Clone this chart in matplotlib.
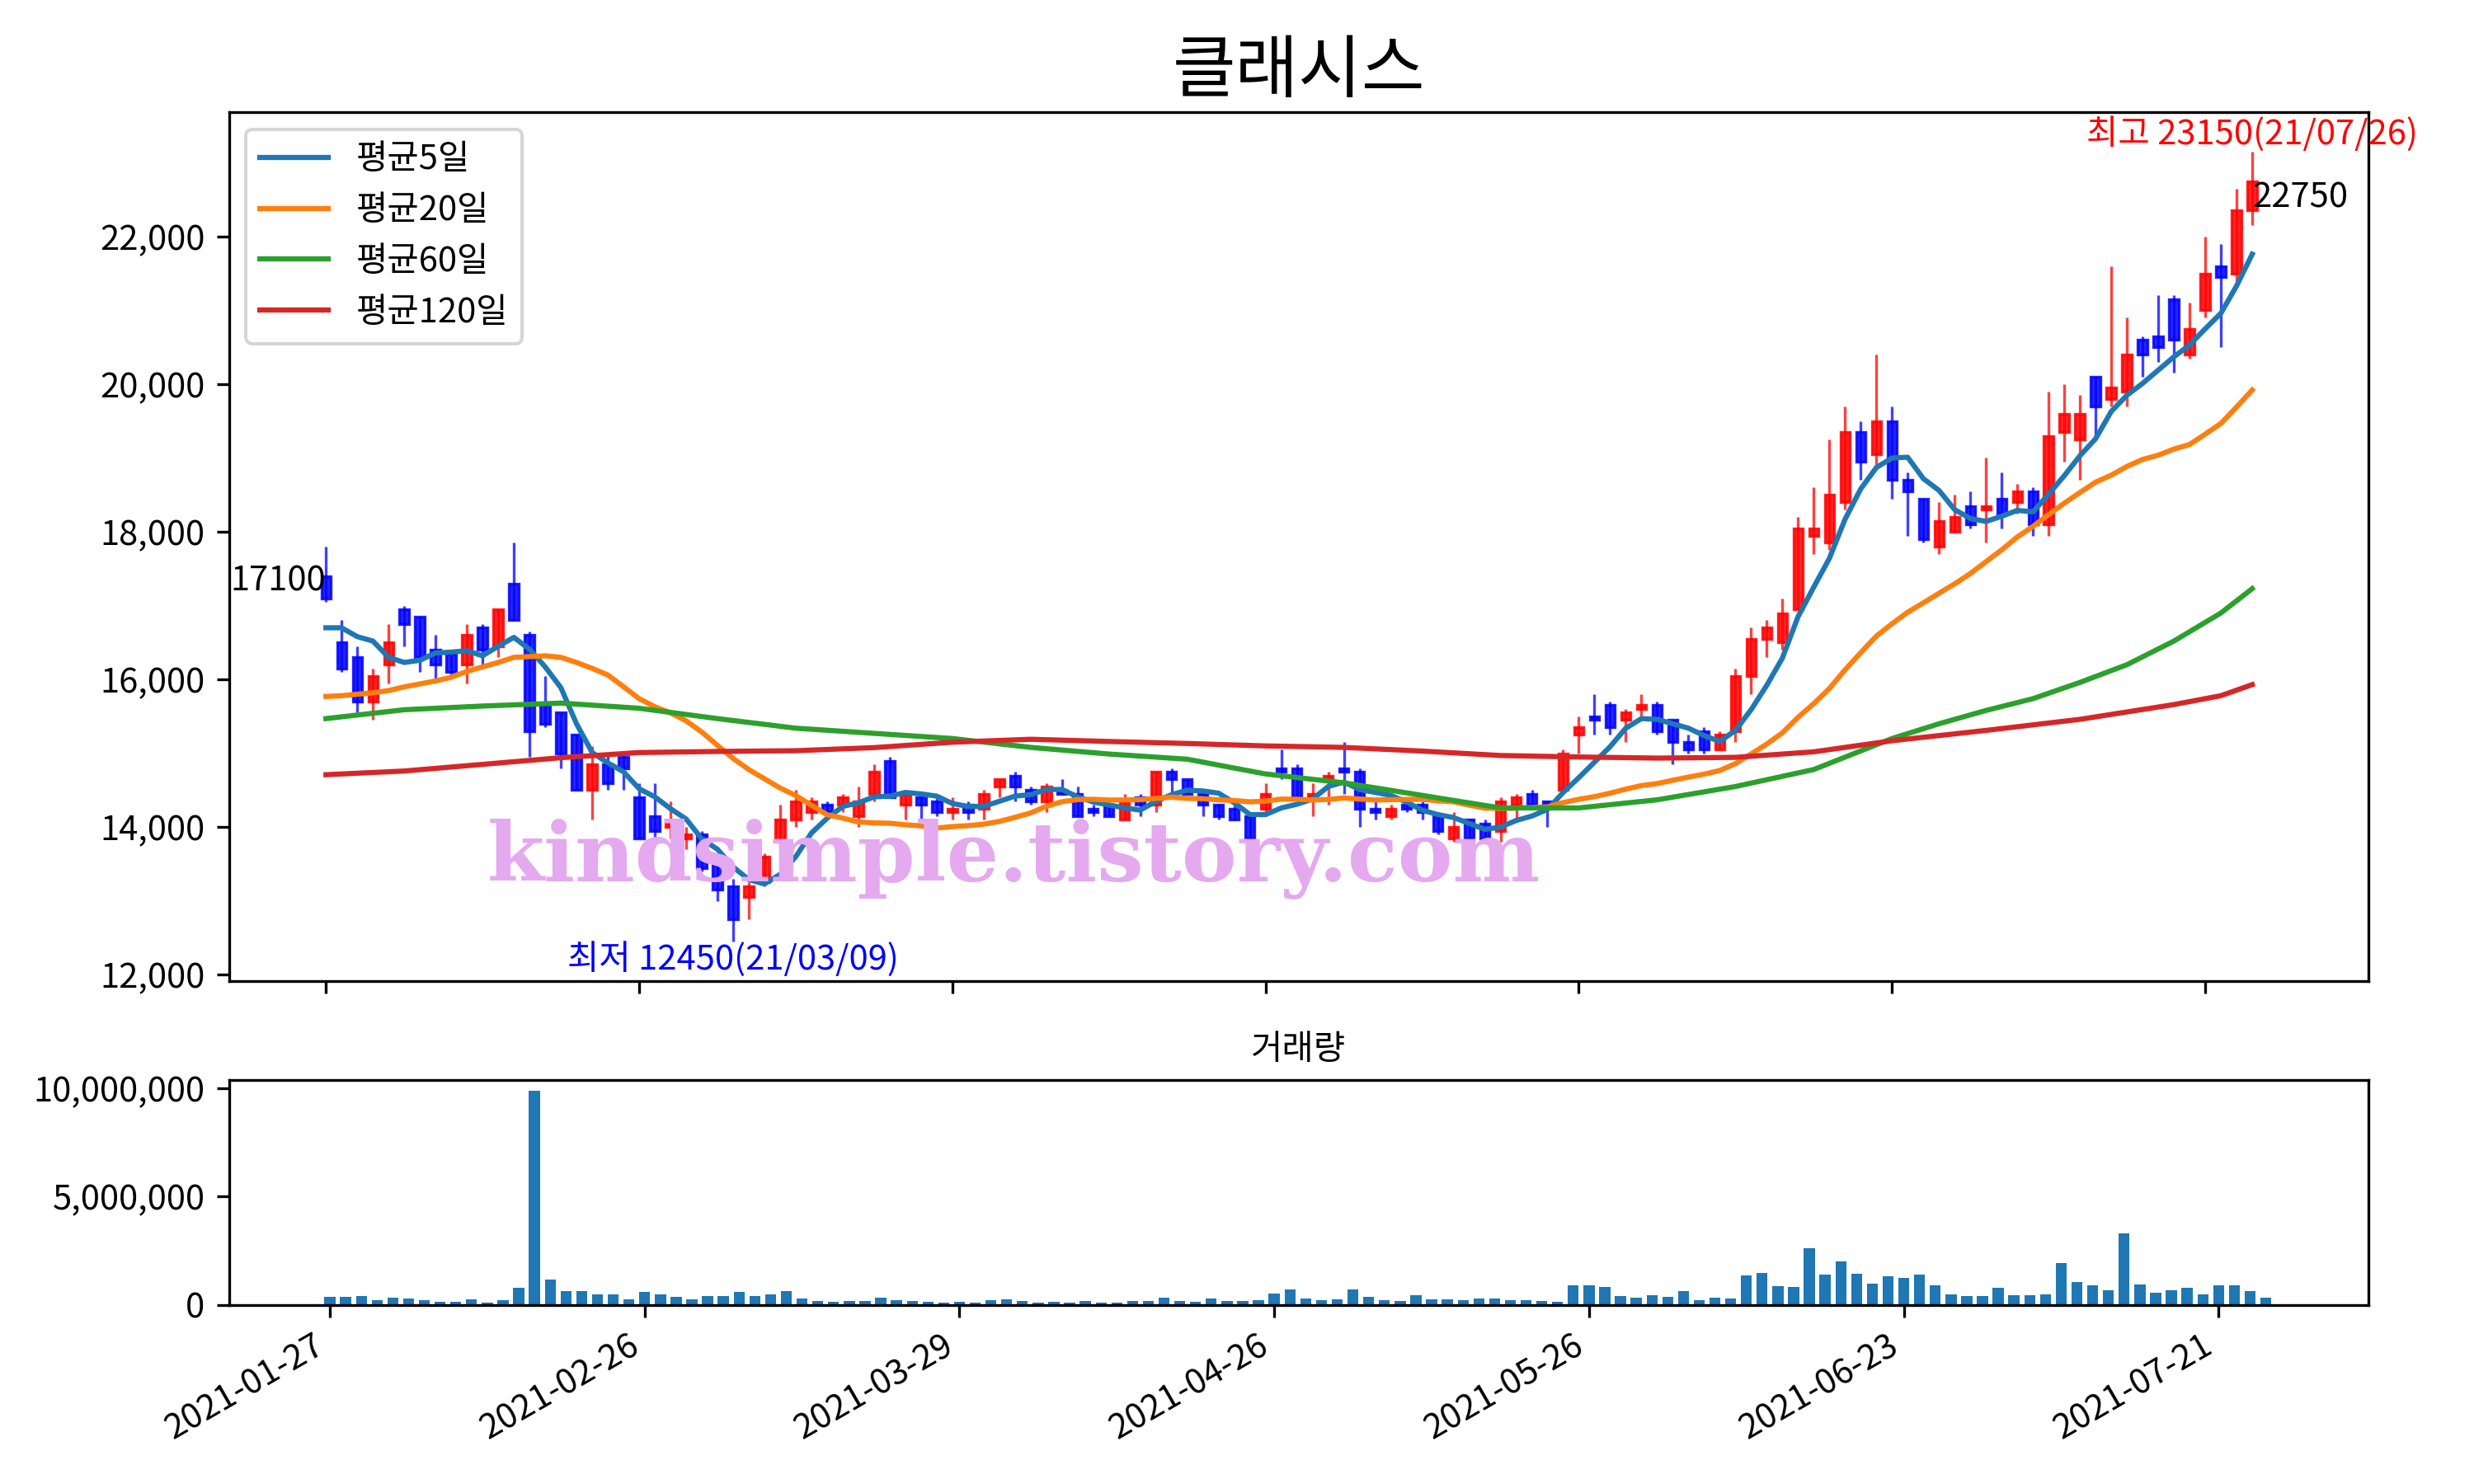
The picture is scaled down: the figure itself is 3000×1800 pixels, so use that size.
import numpy as np
import pandas as pd
import matplotlib
matplotlib.use('Agg')
import matplotlib.pyplot as plt
from matplotlib.patches import Rectangle
from matplotlib.ticker import FuncFormatter

plt.rcParams['font.family'] = ['Noto Sans CJK KR', 'DejaVu Sans']
plt.rcParams['axes.unicode_minus'] = False

# 종목명 / 거래일
name = '클래시스'
holidays = ['2021-02-11', '2021-02-12', '2021-03-01', '2021-05-05', '2021-05-19']
dates = pd.bdate_range('2021-01-27', '2021-07-26', freq='C', holidays=holidays)

# 시가 / 고가 / 저가 / 종가
opens = [17400, 16500, 16300, 15700, 16200, 16950, 16850, 16400, 16350, 16200,
         16700, 16450, 17300, 16600, 15650, 15550, 15250, 14500, 14850, 14950,
         14400, 14150, 14000, 13850, 13900, 13550, 13200, 13050, 13250, 13800,
         14100, 14200, 14300, 14300, 14150, 14450, 14900, 14300, 14400, 14350,
         14200, 14300, 14250, 14550, 14700, 14500, 14350, 14500, 14450, 14250,
         14300, 14100, 14400, 14300, 14750, 14650, 14450, 14300, 14250, 14150,
         14250, 14800, 14800, 14400, 14650, 14800, 14750, 14250, 14150, 14300,
         14300, 14150, 13850, 14100, 14050, 13950, 14300, 14450, 14350, 14500,
         15250, 15500, 15650, 15450, 15600, 15650, 15450, 15150, 15300, 15050,
         15300, 16050, 16550, 16500, 16950, 17950, 17850, 18400, 19350, 19050,
         19500, 18700, 18450, 17800, 18000, 18350, 18300, 18450, 18400, 18550,
         18100, 19350, 19250, 20100, 19800, 19900, 20600, 20650, 21150, 20400,
         21000, 21600, 21500, 22350]
highs = [17800, 16800, 16450, 16150, 16750, 17000, 16850, 16600, 16350, 16750,
         16750, 16950, 17850, 16650, 16050, 15550, 15250, 15100, 15000, 15000,
         14600, 14600, 14350, 14000, 13950, 13650, 13300, 13250, 13650, 14300,
         14500, 14400, 14350, 14450, 14550, 14850, 14950, 14450, 14450, 14400,
         14400, 14350, 14500, 14650, 14750, 14550, 14600, 14650, 14550, 14300,
         14300, 14450, 14450, 14750, 14800, 14650, 14450, 14300, 14300, 14150,
         14600, 15050, 14850, 14600, 14750, 15150, 14800, 14350, 14300, 14400,
         14350, 14200, 14200, 14100, 14100, 14400, 14450, 14500, 14350, 15050,
         15500, 15800, 15700, 15600, 15800, 15700, 15450, 15250, 15350, 15300,
         16150, 16700, 16800, 17100, 18200, 18600, 19250, 19700, 19500, 20400,
         19700, 18800, 18450, 18400, 18500, 18550, 19000, 18800, 18650, 18600,
         19900, 20000, 19850, 20100, 21600, 20900, 20650, 21200, 21200, 21100,
         22000, 21900, 22650, 23150]
lows = [17050, 16100, 15550, 15450, 15950, 16450, 16100, 16000, 16050, 15950,
        16200, 16300, 16800, 14950, 15350, 14800, 14500, 14100, 14500, 14500,
        13850, 13750, 13850, 13700, 13400, 13000, 12450, 12750, 13200, 13700,
        14000, 14100, 14150, 14200, 14000, 14350, 14400, 14100, 14100, 14150,
        14100, 14100, 14100, 14400, 14350, 14300, 14200, 14450, 14150, 14150,
        14150, 14100, 14150, 14200, 14450, 14450, 14150, 14100, 14100, 13850,
        14150, 14650, 14400, 14150, 14300, 14450, 14000, 14100, 14100, 14200,
        14100, 13900, 13800, 13850, 13800, 13800, 14100, 14300, 14000, 14450,
        15000, 15250, 15250, 15150, 15500, 15250, 14850, 15000, 15000, 15050,
        15150, 15800, 16300, 16400, 16950, 17700, 17750, 18300, 18700, 18850,
        18450, 17950, 17850, 17700, 18000, 18050, 17850, 18050, 18250, 17950,
        17950, 18950, 18700, 19300, 19700, 19700, 20100, 20300, 20150, 20350,
        20900, 20500, 21400, 22150]
closes = [17100, 16150, 15700, 16050, 16500, 16750, 16300, 16200, 16100, 16600,
          16400, 16950, 16800, 15300, 15400, 15000, 14500, 14850, 14600, 14800,
          13850, 13950, 14050, 13900, 13450, 13150, 12750, 13200, 13600, 14100,
          14350, 14350, 14200, 14400, 14350, 14750, 14400, 14450, 14300, 14200,
          14250, 14200, 14450, 14650, 14550, 14350, 14550, 14450, 14150, 14200,
          14150, 14350, 14300, 14750, 14650, 14450, 14300, 14150, 14100, 13850,
          14450, 14750, 14400, 14450, 14700, 14750, 14250, 14200, 14250, 14250,
          14200, 13950, 14000, 13850, 13850, 14350, 14400, 14300, 14300, 15000,
          15350, 15450, 15350, 15550, 15650, 15300, 15150, 15050, 15050, 15250,
          16050, 16550, 16700, 16900, 18050, 18050, 18500, 19350, 18950, 19500,
          18700, 18550, 17900, 18150, 18200, 18100, 18350, 18250, 18550, 18100,
          19300, 19600, 19600, 19700, 19950, 20400, 20400, 20500, 20600, 20750,
          21500, 21450, 22350, 22750]
volumes = [370000, 370000, 410000, 220000, 330000, 290000, 220000, 140000, 140000, 250000,
           100000, 220000, 790000, 9890000, 1180000, 630000, 630000, 480000, 480000, 250000,
           600000, 480000, 370000, 250000, 410000, 410000, 600000, 410000, 480000, 630000,
           290000, 180000, 140000, 180000, 180000, 330000, 220000, 180000, 140000, 100000,
           140000, 100000, 220000, 250000, 180000, 100000, 140000, 100000, 180000, 100000,
           100000, 180000, 180000, 330000, 180000, 140000, 290000, 180000, 180000, 220000,
           520000, 710000, 290000, 220000, 250000, 710000, 370000, 220000, 180000, 440000,
           250000, 250000, 220000, 290000, 290000, 220000, 220000, 180000, 140000, 900000,
           900000, 820000, 410000, 330000, 440000, 370000, 630000, 220000, 330000, 290000,
           1360000, 1470000, 860000, 820000, 2610000, 1400000, 2010000, 1430000, 980000, 1320000,
           1240000, 1400000, 900000, 480000, 410000, 410000, 790000, 440000, 440000, 480000,
           1930000, 1050000, 900000, 670000, 3300000, 940000, 560000, 670000, 790000, 480000,
           900000, 900000, 630000, 330000]

# 이동평균: 창 이전 구간은 그림에서 읽은 값
ma5_head = [16700, 16700, 16580, 16520]
ma20_head = [15770, 15780, 15800, 15820, 15850, 15900, 15940, 15980, 16030, 16110,
             16170, 16230, 16300, 16310, 16320, 16300, 16230, 16150, 16060]
ma_days = [0, 5, 10, 15, 20, 25, 30, 35, 40, 45, 50, 55, 60, 65, 70, 75, 80, 85,
           90, 95, 100, 103, 106, 109, 112, 115, 118, 121, 123]
ma60 = [15470, 15590, 15640, 15680, 15610, 15470, 15340, 15270, 15200, 15080,
        14990, 14920, 14720, 14600, 14430, 14260, 14260, 14370, 14550, 14780,
        15200, 15400, 15580, 15740, 15960, 16200, 16520, 16900, 17230]
ma120 = [14710, 14760, 14850, 14940, 15010, 15025, 15035, 15077, 15150, 15190,
         15160, 15133, 15100, 15080, 15030, 14970, 14950, 14935, 14945, 15020,
         15170, 15240, 15310, 15385, 15460, 15560, 15660, 15780, 15930]

close_s = pd.Series(closes, dtype=float)
ma5 = np.r_[ma5_head, close_s.rolling(5).mean().values[4:]]
ma20 = np.r_[ma20_head, close_s.rolling(20).mean().values[19:]]

x = np.arange(len(closes))
comma = FuncFormatter(lambda v, p: f'{v:,.0f}')

fig = plt.figure(figsize=(10, 6), dpi=300)
ax = fig.add_axes([0.0925, 0.3389, 0.8647, 0.5856])
axv = fig.add_axes([0.0925, 0.1206, 0.8647, 0.1517])

# 캔들
for i in x:
    o, h, l, c = opens[i], highs[i], lows[i], closes[i]
    col = 'r' if c >= o else 'b'
    ax.vlines(i, l, h, color=col, lw=0.8, alpha=0.75, zorder=1)
    ax.add_patch(Rectangle((i - 0.3, min(o, c)), 0.6, abs(c - o),
                           fc=col, ec=col, lw=0.8, alpha=0.85, zorder=1))

ax.plot(x, ma5, label='평균5일', zorder=2)
ax.plot(x, ma20, label='평균20일', zorder=2)
ax.plot(ma_days, ma60, label='평균60일', zorder=2)
ax.plot(ma_days, ma120, label='평균120일', zorder=2)
ax.legend(loc='upper left')

# 최고 / 최저 / 시작 / 끝 표시
imax = int(np.argmax(highs))
imin = int(np.argmin(lows))
ax.text(imax, highs[imax], f'최고 {highs[imax]}({dates[imax]:%y/%m/%d})',
        color='r', ha='center', va='bottom')
ax.text(imin, lows[imin], f'최저 {lows[imin]}({dates[imin]:%y/%m/%d})',
        color='b', ha='center', va='top')
ax.text(x[0], closes[0], str(closes[0]), ha='right', va='bottom')
ax.text(x[-1], closes[-1], str(closes[-1]), ha='left', va='top')

ax.text(0.367, 0.14, 'kindsimple.tistory.com', transform=ax.transAxes,
        fontsize=24, fontweight='bold', family='DejaVu Serif',
        color='#e4a9ef', ha='center', va='center', zorder=3)

ax.set_title(name, fontsize=20)
ax.set_xlim(-6.2, 130.4)
ax.set_xticks(x[::20])
ax.set_xticklabels([])
ax.yaxis.set_major_formatter(comma)

# 거래량
axv.bar(x, volumes, width=0.7, color='C0')
axv.set_title('거래량', fontsize=10)
axv.set_xlim(-6.42, 129.5)
axv.set_xticks(x[::20])
axv.set_xticklabels([d.strftime('%Y-%m-%d') for d in dates[::20]], rotation=30, ha='right')
axv.yaxis.set_major_formatter(comma)

fig.savefig('out.png', dpi=300)
